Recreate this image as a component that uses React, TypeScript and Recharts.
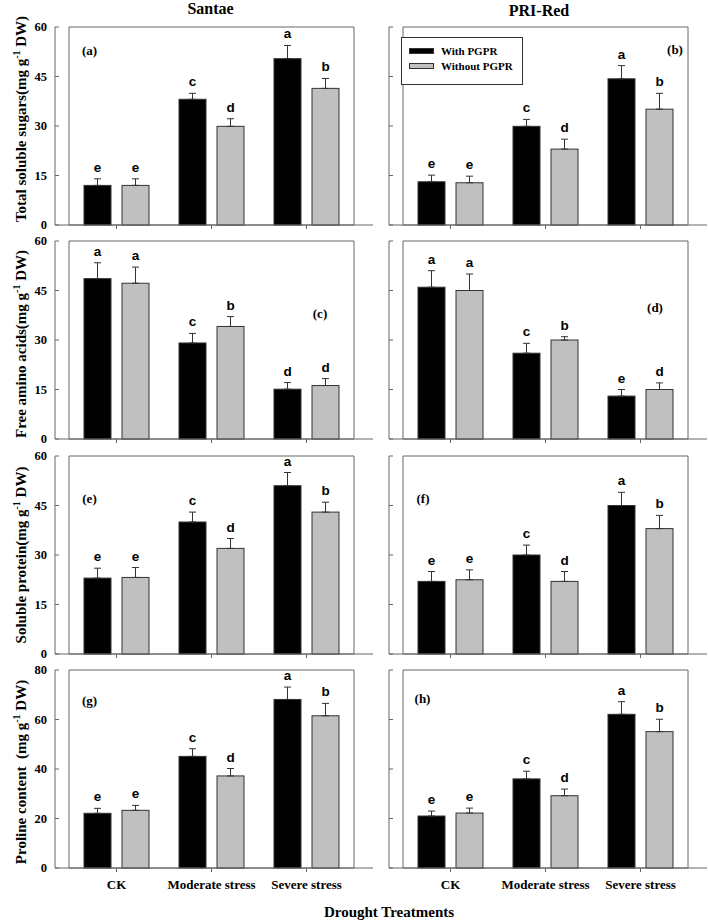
import React from 'react';
import { BarChart, Bar, XAxis, YAxis, ErrorBar, ReferenceArea, Legend } from 'recharts';

const treatments = ['CK', 'Moderate stress', 'Severe stress'];

// (a) Santae - total soluble sugars
const sugarsSantaeWith = [12, 38.1, 50.4];
const sugarsSantaeWithout = [12, 29.9, 41.4];
const sugarsSantaeWithSd = [2, 1.8, 4];
const sugarsSantaeWithoutSd = [2, 2.3, 3];
// (b) PRI-Red - total soluble sugars
const sugarsRedWith = [13.1, 29.9, 44.3];
const sugarsRedWithout = [12.8, 23, 35.1];
const sugarsRedWithSd = [2, 2.1, 4];
const sugarsRedWithoutSd = [2, 3, 4.8];
// (c) Santae - free amino acids
const aminoSantaeWith = [48.6, 29.1, 15.1];
const aminoSantaeWithout = [47.2, 34.1, 16.2];
const aminoSantaeWithSd = [4.8, 2.9, 2];
const aminoSantaeWithoutSd = [4.9, 3, 2.1];
// (d) PRI-Red - free amino acids
const aminoRedWith = [46, 26, 13];
const aminoRedWithout = [45, 30, 15];
const aminoRedWithSd = [5, 3, 2];
const aminoRedWithoutSd = [5, 1, 2];
// (e) Santae - soluble protein
const proteinSantaeWith = [23, 40, 51];
const proteinSantaeWithout = [23.2, 32, 43];
const proteinSantaeWithSd = [3, 3, 4];
const proteinSantaeWithoutSd = [3, 3, 3];
// (f) PRI-Red - soluble protein
const proteinRedWith = [22, 30, 45];
const proteinRedWithout = [22.5, 22, 38];
const proteinRedWithSd = [3, 3, 4];
const proteinRedWithoutSd = [3, 3, 4];
// (g) Santae - proline
const prolineSantaeWith = [22.1, 45.1, 68.1];
const prolineSantaeWithout = [23.3, 37.2, 61.5];
const prolineSantaeWithSd = [2, 3.1, 5];
const prolineSantaeWithoutSd = [2, 3, 5];
// (h) PRI-Red - proline
const prolineRedWith = [21, 36, 62.1];
const prolineRedWithout = [22.2, 29.2, 55.1];
const prolineRedWithSd = [2, 3.1, 5.1];
const prolineRedWithoutSd = [2, 2.7, 5];

// significance letters
const lettersUpWith = ['e', 'c', 'a'];
const lettersUpWithout = ['e', 'd', 'b'];
const lettersAminoSantaeWith = ['a', 'c', 'd'];
const lettersAminoSantaeWithout = ['a', 'b', 'd'];
const lettersAminoRedWith = ['a', 'c', 'e'];
const lettersAminoRedWithout = ['a', 'b', 'd'];

const ticks60 = [0, 15, 30, 45, 60];
const ticks80 = [0, 20, 40, 60, 80];

const SERIF = '"Liberation Serif", "Times New Roman", serif';
const SANS = '"Liberation Sans", Arial, sans-serif';
const FRAME = '#666';
const EDGE = '#333';

const makeRows = (w, wo, wSd, woSd, lw, lwo) =>
  treatments.map((t, i) => ({
    t,
    w: w[i],
    wo: wo[i],
    wErr: [0, wSd[i]],
    woErr: [0, woSd[i]],
    wL: lw[i],
    woL: lwo[i],
  }));

const makeShape = (fill, valueKey, errKey, letterKey) => (props) => {
  const { x, y, width, height, payload } = props;
  const v = payload[valueKey];
  const top = y - (payload[errKey][1] * height) / v;
  return (
    <g>
      <rect x={x} y={y} width={width} height={height} fill={fill} stroke={EDGE} strokeWidth={1} />
      <text x={x + width / 2} y={top - 7} textAnchor="middle" fontFamily={SANS} fontWeight="bold" fontSize={13.5} fill="#000">
        {payload[letterKey]}
      </text>
    </g>
  );
};

const blackShape = makeShape('#000', 'w', 'wErr', 'wL');
const grayShape = makeShape('#c0c0c0', 'wo', 'woErr', 'woL');

const LegendBox = ({ payload }) => (
  <div
    style={{
      width: 120,
      height: 40,
      border: `1px solid ${EDGE}`,
      background: '#fff',
      paddingTop: 6,
      boxSizing: 'content-box',
      fontFamily: SERIF,
      fontWeight: 'bold',
      fontSize: 11,
      color: '#000',
    }}
  >
    {(payload || []).map((e) => (
      <div key={e.value} style={{ display: 'flex', alignItems: 'center', height: 14.5, marginLeft: 7, marginTop: 0 }}>
        <span style={{ width: 25, height: 6, background: e.color, border: `1px solid ${EDGE}`, boxSizing: 'border-box' }} />
        <span style={{ marginLeft: 7, lineHeight: '14px' }}>{e.value}</span>
      </div>
    ))}
  </div>
);

const PLOT_W = 318;
const PLOT_H = 198;
const MT = 10;
const MR = 6;
const XH = 30;

function Panel({ left, top, rows, yMax, ticks, yLabels, xLabels, legend }) {
  const yw = yLabels ? 50 : 12;
  const YTick = (p) => {
    const ax = p.x + 8;
    return (
      <g>
        {yLabels && (
          <text x={p.x} y={p.y} dy="0.35em" textAnchor="end" fontFamily={SERIF} fontWeight="bold" fontSize={12.5} fill="#000">
            {p.payload.value}
          </text>
        )}
        <line x1={ax} x2={ax + 4} y1={p.y} y2={p.y} stroke={FRAME} />
      </g>
    );
  };
  const XTick = (p) =>
    xLabels ? (
      <text x={p.x} y={p.y} dy="0.71em" textAnchor="middle" fontFamily={SERIF} fontWeight="bold" fontSize={13} fill="#000">
        {p.payload.value}
      </text>
    ) : (
      <g />
    );
  return (
    <div style={{ position: 'absolute', left: left - yw, top: top - MT }}>
      <BarChart
        width={yw + PLOT_W + MR}
        height={MT + PLOT_H + XH}
        data={rows}
        margin={{ top: MT, right: MR, left: 0, bottom: 0 }}
        barSize={27}
        barGap={11}
      >
        <XAxis
          dataKey="t"
          type="category"
          padding={{ left: 14, right: 19 }}
          height={XH}
          tickSize={4}
          tickMargin={8}
          interval={0}
          axisLine={{ stroke: FRAME }}
          tickLine={{ stroke: FRAME }}
          tick={XTick}
        />
        <YAxis
          width={yw}
          domain={[0, yMax]}
          ticks={ticks}
          interval={0}
          tickSize={0}
          tickMargin={8}
          tickLine={false}
          axisLine={{ stroke: FRAME }}
          tick={YTick}
        />
        <ReferenceArea y1={0} y2={yMax} fill="none" stroke={FRAME} strokeWidth={1} />
        {legend && (
          <Legend
            layout="vertical"
            align="center"
            verticalAlign="middle"
            content={LegendBox}
            wrapperStyle={{ left: 401 - (left - yw), top: 37 - (top - MT), width: 122, height: 48 }}
          />
        )}
        <Bar dataKey="w" name="With PGPR" fill="#000" shape={blackShape} isAnimationActive={false}>
          <ErrorBar dataKey="wErr" width={3.5} stroke={EDGE} strokeWidth={1} direction="y" isAnimationActive={false} />
        </Bar>
        <Bar dataKey="wo" name="Without PGPR" fill="#c0c0c0" shape={grayShape} isAnimationActive={false}>
          <ErrorBar dataKey="woErr" width={3.5} stroke={EDGE} strokeWidth={1} direction="y" isAnimationActive={false} />
        </Bar>
      </BarChart>
    </div>
  );
}

const COL = [55, 389];
const ROW = [27, 241, 456, 670];

const panelTags = [
  { s: '(a)', x: 89.5, y: 55 },
  { s: '(b)', x: 675, y: 54 },
  { s: '(c)', x: 320, y: 318 },
  { s: '(d)', x: 655, y: 312 },
  { s: '(e)', x: 89.5, y: 503 },
  { s: '(f)', x: 423, y: 503 },
  { s: '(g)', x: 89.5, y: 705 },
  { s: '(h)', x: 422.5, y: 703 },
];

const yTitles = [
  { main: 'Total soluble sugars(mg g', cy: 119 },
  { main: 'Free amino acids(mg g', cy: 344 },
  { main: 'Soluble protein(mg g', cy: 555 },
  { main: 'Proline content  (mg g', cy: 772 },
];

export default function App() {
  return (
    <div style={{ position: 'absolute', left: 0, top: 0, width: 708, height: 921, background: '#fff' }}>
      <Panel left={COL[0]} top={ROW[0]} yMax={60} ticks={ticks60} yLabels
        rows={makeRows(sugarsSantaeWith, sugarsSantaeWithout, sugarsSantaeWithSd, sugarsSantaeWithoutSd, lettersUpWith, lettersUpWithout)} />
      <Panel left={COL[1]} top={ROW[0]} yMax={60} ticks={ticks60} legend
        rows={makeRows(sugarsRedWith, sugarsRedWithout, sugarsRedWithSd, sugarsRedWithoutSd, lettersUpWith, lettersUpWithout)} />
      <Panel left={COL[0]} top={ROW[1]} yMax={60} ticks={ticks60} yLabels
        rows={makeRows(aminoSantaeWith, aminoSantaeWithout, aminoSantaeWithSd, aminoSantaeWithoutSd, lettersAminoSantaeWith, lettersAminoSantaeWithout)} />
      <Panel left={COL[1]} top={ROW[1]} yMax={60} ticks={ticks60}
        rows={makeRows(aminoRedWith, aminoRedWithout, aminoRedWithSd, aminoRedWithoutSd, lettersAminoRedWith, lettersAminoRedWithout)} />
      <Panel left={COL[0]} top={ROW[2]} yMax={60} ticks={ticks60} yLabels
        rows={makeRows(proteinSantaeWith, proteinSantaeWithout, proteinSantaeWithSd, proteinSantaeWithoutSd, lettersUpWith, lettersUpWithout)} />
      <Panel left={COL[1]} top={ROW[2]} yMax={60} ticks={ticks60}
        rows={makeRows(proteinRedWith, proteinRedWithout, proteinRedWithSd, proteinRedWithoutSd, lettersUpWith, lettersUpWithout)} />
      <Panel left={COL[0]} top={ROW[3]} yMax={80} ticks={ticks80} yLabels xLabels
        rows={makeRows(prolineSantaeWith, prolineSantaeWithout, prolineSantaeWithSd, prolineSantaeWithoutSd, lettersUpWith, lettersUpWithout)} />
      <Panel left={COL[1]} top={ROW[3]} yMax={80} ticks={ticks80} xLabels
        rows={makeRows(prolineRedWith, prolineRedWithout, prolineRedWithSd, prolineRedWithoutSd, lettersUpWith, lettersUpWithout)} />

      <svg width={708} height={921} style={{ position: 'absolute', left: 0, top: 0, pointerEvents: 'none' }}>
        <g fontFamily={SERIF} fontWeight="bold" fill="#000">
          <text x={210.5} y={14} textAnchor="middle" fontSize={16}>Santae</text>
          <text x={539} y={15.5} textAnchor="middle" fontSize={16}>PRI-Red</text>
          <text x={389} y={917} textAnchor="middle" fontSize={15}>Drought Treatments</text>
          {panelTags.map((p) => (
            <text key={p.s} x={p.x} y={p.y} textAnchor="middle" fontSize={13}>{p.s}</text>
          ))}
          {yTitles.map((t) => (
            <text key={t.main} transform={`translate(26, ${t.cy}) rotate(-90)`} textAnchor="middle" fontSize={15} style={{ whiteSpace: 'pre' }}>
              {t.main}
              <tspan dy={-6} fontSize={10}>-1</tspan>
              <tspan dy={6}> DW)</tspan>
            </text>
          ))}
        </g>
      </svg>
    </div>
  );
}
